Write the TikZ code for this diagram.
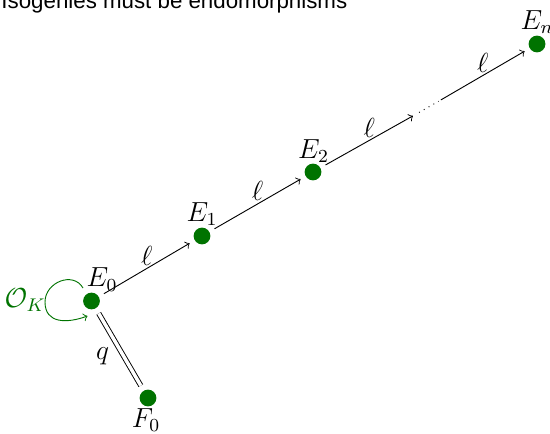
\documentclass[tikz,border=0pt]{standalone}
\usepackage{fontspec}
\newfontfamily\titlefont{Liberation Sans}
\usetikzlibrary{calc}
\definecolor{dkgreen}{RGB}{0,115,0}
\begin{document}
\begin{tikzpicture}[x=0.435pt,y=0.435pt,
  font=\fontsize{12}{14}\selectfont,
  dot/.style={circle,fill=dkgreen,inner sep=0pt,minimum size=7.3pt,outer sep=2.6pt},
  ghost/.style={circle,inner sep=0pt,minimum size=7pt,outer sep=3.5pt},
  lab/.style={inner sep=0pt},
  isog/.style={->,black},
  elab/.style={midway,yshift=5.6pt,inner sep=0pt}]
\useasboundingbox (0,0) rectangle (550,433);
\node[anchor=base west,inner sep=0pt,font=\titlefont\fontsize{9.7}{12}\selectfont] (title) at (1,424.3) {Isogenies must be endomorphisms};
% dots
\node[dot] (E0) at (91.5,132) {};
\node[dot] (E1) at (202,197) {};
\node[dot] (E2) at (313,261) {};
\node[ghost] (X) at (427,325) {};
\node[dot] (En) at (537,389) {};
\node[dot] (F0) at (148,35) {};
% labels
\node[lab] (E0l) at (102,153.5) {$E_0$};
\node[lab] (E1l) at (202,218.5) {$E_1$};
\node[lab] (E2l) at (313.5,282) {$E_2$};
\node[lab] (Enl) at (537,411) {$E_n$};
\node[lab] (F0l) at (146,13) {$F_0$};
% isogenies
\draw[isog] (E0) -- (E1) node[elab] (l0) {$\ell$};
\draw[isog] (E1) -- (E2) node[elab] (l1) {$\ell$};
\draw[isog] (E2) -- (X) node[elab] (l2) {$\ell$};
\draw[isog] (X) -- (En) node[elab] (l3) {$\ell$};
\coordinate (d1) at ($(X)!0.07!(E2)$);
\coordinate (d2) at ($(X)!0.105!(En)$);
\draw[dotted] (d1) -- (d2);
% double line
\draw[double,double distance=1.5pt] (E0) -- (F0) node[midway,xshift=-7.5pt,yshift=-3pt,inner sep=0pt] (q) {$q$};
% endomorphism loop
\coordinate (ls) at (83,145);
\coordinate (lm) at (45,131);
\coordinate (le) at (87.5,117);
\draw[->,dkgreen] (ls) to[out=120,in=90,looseness=1.25] (lm) to[out=270,in=200,looseness=1.25] (le);
\node[lab,text=dkgreen] (OK) at (25,133) {$\mathcal{O}_K$};
\end{tikzpicture}
\end{document}
